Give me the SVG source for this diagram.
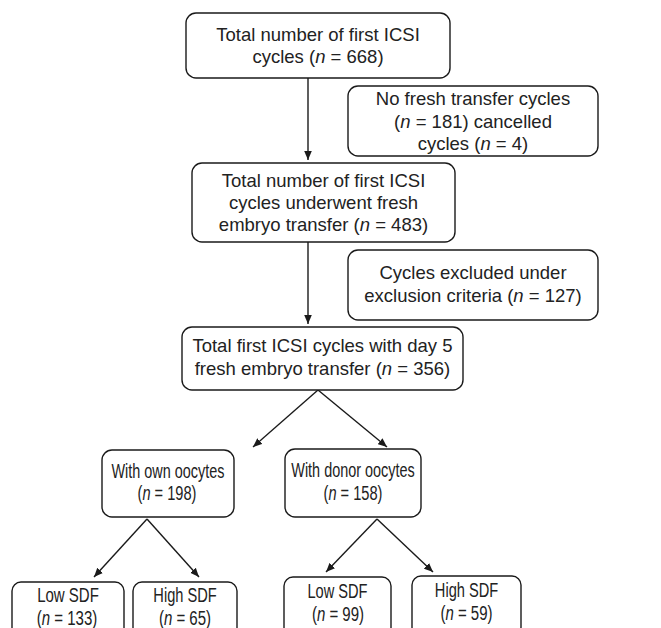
<svg xmlns="http://www.w3.org/2000/svg" width="661" height="628" viewBox="0 0 661 628">
<defs>
<marker id="ah" viewBox="0 0 9 8" refX="9" refY="4" markerWidth="9" markerHeight="8" markerUnits="userSpaceOnUse" orient="auto">
<path d="M0,0.2 L9,4 L0,7.8 Z" fill="#1a1a1a"/>
</marker>
<style>
.b{fill:#fff;stroke:#1a1a1a;stroke-width:1.4}
.t{font-family:"Liberation Sans",Arial,sans-serif;font-size:18.5px;fill:#222;text-anchor:middle}
.s{font-family:"Liberation Sans",Arial,sans-serif;font-size:19.5px;fill:#222;text-anchor:middle}
.c{stroke:#1a1a1a;stroke-width:1.4;fill:none;marker-end:url(#ah)}
</style>
</defs>
<rect width="661" height="628" fill="#fff"/>
<g id="connectors">
<line class="c" x1="308" y1="78" x2="308" y2="160"/>
<line class="c" x1="308" y1="242" x2="308" y2="324"/>
<line class="c" x1="318" y1="390" x2="253" y2="447"/>
<line class="c" x1="318" y1="390" x2="387" y2="447"/>
<line class="c" x1="147" y1="519" x2="94" y2="577"/>
<line class="c" x1="147" y1="519" x2="199" y2="577"/>
<line class="c" x1="377" y1="519" x2="326" y2="572"/>
<line class="c" x1="377" y1="519" x2="433" y2="572"/>
</g>
<g id="n1">
<rect class="b" x="186" y="13" width="264" height="65" rx="10"/>
<text class="t" x="318" y="40.5">Total number of first ICSI</text>
<text class="t" x="318" y="62.5">cycles (<tspan font-style="italic">n</tspan> = 668)</text>
</g>
<g id="n2">
<rect class="b" x="348" y="86" width="250" height="70" rx="10"/>
<text class="t" x="473" y="105">No fresh transfer cycles</text>
<text class="t" x="473" y="127.5">(<tspan font-style="italic">n</tspan> = 181) cancelled</text>
<text class="t" x="473" y="150">cycles (<tspan font-style="italic">n</tspan> = 4)</text>
</g>
<g id="n3">
<rect class="b" x="192" y="163" width="263" height="79" rx="10"/>
<text class="t" x="323.5" y="186.5">Total number of first ICSI</text>
<text class="t" x="323.5" y="208.5">cycles underwent fresh</text>
<text class="t" x="323.5" y="230.5">embryo transfer (<tspan font-style="italic">n</tspan> = 483)</text>
</g>
<g id="n4">
<rect class="b" x="348" y="250" width="250" height="70" rx="10"/>
<text class="t" x="473" y="279">Cycles excluded under</text>
<text class="t" x="473" y="302">exclusion criteria (<tspan font-style="italic">n</tspan> = 127)</text>
</g>
<g id="n5">
<rect class="b" x="182" y="327" width="281" height="63" rx="10"/>
<text class="t" x="322.5" y="352">Total first ICSI cycles with day 5</text>
<text class="t" x="322.5" y="375">fresh embryo transfer (<tspan font-style="italic">n</tspan> = 356)</text>
</g>
<g id="n6">
<rect class="b" x="102" y="450" width="132" height="67" rx="10"/>
<text class="s" transform="translate(168 478) scale(0.74 1)">With own oocytes</text>
<text class="s" transform="translate(167 500) scale(0.75 1)">(<tspan font-style="italic">n</tspan> = 198)</text>
</g>
<g id="n7">
<rect class="b" x="285" y="449" width="136" height="68" rx="10"/>
<text class="s" transform="translate(353 477) scale(0.74 1)">With donor oocytes</text>
<text class="s" transform="translate(353 500) scale(0.75 1)">(<tspan font-style="italic">n</tspan> = 158)</text>
</g>
<g id="n8">
<rect class="b" x="12" y="582" width="112" height="60" rx="9"/>
<text class="s" transform="translate(68 602) scale(0.77 1)">Low SDF</text>
<text class="s" transform="translate(67 625) scale(0.77 1)">(<tspan font-style="italic">n</tspan> = 133)</text>
</g>
<g id="n9">
<rect class="b" x="133" y="582" width="104" height="60" rx="9"/>
<text class="s" transform="translate(185 602) scale(0.75 1)">High SDF</text>
<text class="s" transform="translate(185 625) scale(0.77 1)">(<tspan font-style="italic">n</tspan> = 65)</text>
</g>
<g id="n10">
<rect class="b" x="284" y="577" width="107" height="60" rx="9"/>
<text class="s" transform="translate(337.5 598) scale(0.75 1)">Low SDF</text>
<text class="s" transform="translate(338 621) scale(0.77 1)">(<tspan font-style="italic">n</tspan> = 99)</text>
</g>
<g id="n11">
<rect class="b" x="412" y="576" width="109" height="60" rx="9"/>
<text class="s" transform="translate(466.5 597) scale(0.75 1)">High SDF</text>
<text class="s" transform="translate(466.5 620) scale(0.77 1)">(<tspan font-style="italic">n</tspan> = 59)</text>
</g>
</svg>
